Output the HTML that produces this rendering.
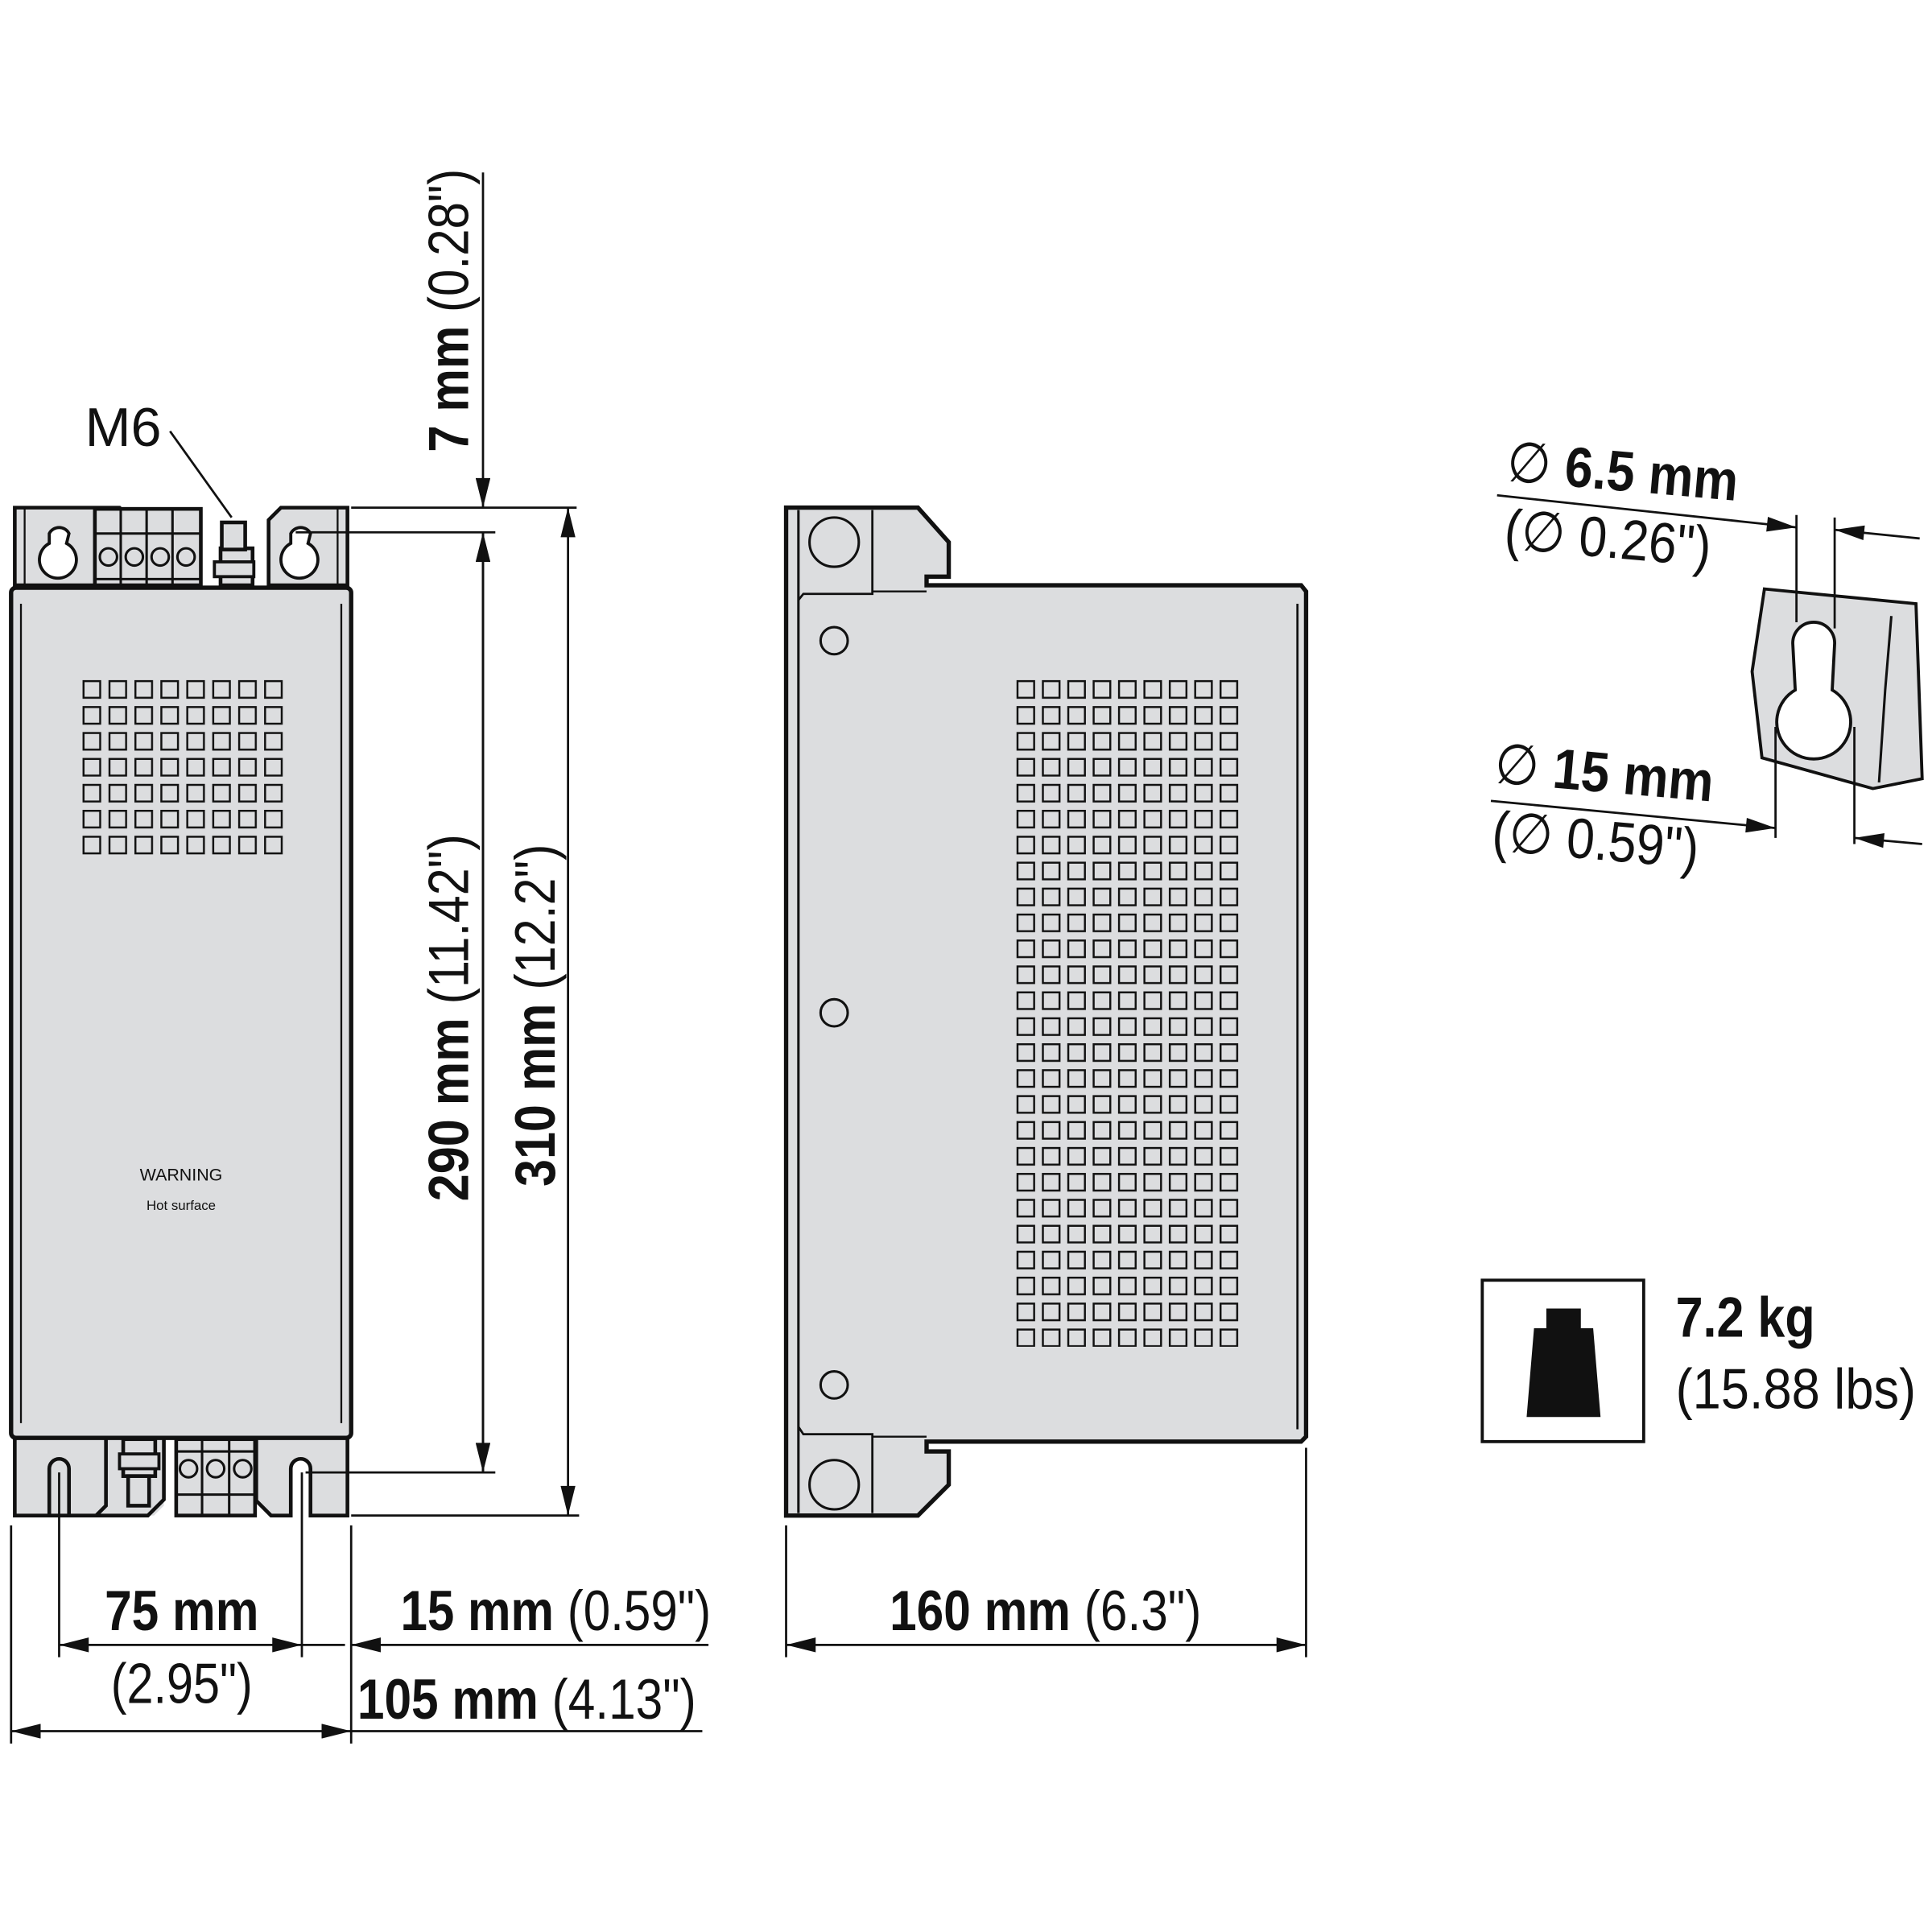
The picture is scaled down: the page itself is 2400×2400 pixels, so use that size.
<!DOCTYPE html>
<html><head><meta charset="utf-8"><style>
html,body{margin:0;padding:0;background:#fff}
svg{display:block}
text{font-family:"Liberation Sans Narrow","Liberation Sans",sans-serif;fill:#111}
.b{font-weight:bold}
</style></head><body>
<svg width="2400" height="2400" viewBox="0 0 1568 1568" xmlns="http://www.w3.org/2000/svg">
<defs>
<marker id="a" viewBox="0 0 20 10" refX="20" refY="5" markerWidth="36" markerHeight="12" markerUnits="userSpaceOnUse" orient="auto-start-reverse"><path d="M0,0 L20,5 L0,10 Z" fill="#111"/></marker>
<pattern id="g" x="67" y="552" width="21.05" height="21.05" patternUnits="userSpaceOnUse"><rect x="0.8" y="0.8" width="13.5" height="13.5" fill="none" stroke="#111" stroke-width="1.6"/></pattern>
<pattern id="g2" x="825" y="552" width="20.6" height="21.05" patternUnits="userSpaceOnUse"><rect x="0.8" y="0.8" width="13.5" height="13.5" fill="none" stroke="#111" stroke-width="1.6"/></pattern>
</defs>
<g stroke="#111" fill="#dcdddf">
<!-- LEFT UNIT top flanges -->
<path d="M19,444 L19,412 L104,412 L114,422 L114,475 L19,475 Z" stroke-width="3" transform="translate(-7,0)"/>
<rect x="77" y="413" width="86" height="62" stroke-width="3"/>
<line x1="77" y1="433" x2="163" y2="433" stroke-width="2"/><line x1="77" y1="470" x2="163" y2="470" stroke-width="2"/>
<line x1="98" y1="413" x2="98" y2="475" stroke-width="2"/><line x1="119" y1="413" x2="119" y2="475" stroke-width="2"/><line x1="140" y1="413" x2="140" y2="475" stroke-width="2"/>
<g fill="none" stroke-width="2"><circle cx="88" cy="452" r="7"/><circle cx="109" cy="452" r="7"/><circle cx="130" cy="452" r="7"/><circle cx="151" cy="452" r="7"/></g>
<rect x="179" y="445" width="26" height="30" stroke-width="3"/><rect x="180" y="424" width="19" height="22" stroke-width="3"/>
<rect x="174" y="456" width="32" height="12" stroke-width="2.5"/>
<path d="M218,475 L218,422 L228,412 L282,412 L282,475 Z" stroke-width="3"/>
<line x1="20" y1="413" x2="20" y2="475" stroke-width="1.5"/><line x1="274" y1="413" x2="274" y2="475" stroke-width="1.5"/>
<path d="M40,433 A9,9 0 0 1 56,433 L54,441 A15,15 0 1 1 40,441 Z" fill="#fff" stroke-width="2.5"/>
<path d="M236,433 A9,9 0 0 1 252,433 L250,441 A15,15 0 1 1 236,441 Z" fill="#fff" stroke-width="2.5"/>
<!-- bottom flanges -->
<path d="M18,1168 L133,1168 L133,1222 L125,1230 L87,1230 L87,1190 A7,7 0 0 0 73,1190 L73,1230 L62,1230 L60,1190 A7,7 0 0 0 48,1190 L48,1230 L18,1230 Z" stroke-width="0"/>
<path d="M18,1168 L18,1230 L61,1230 L61,1192 A8,8 0 0 1 77,1192 L77,1230 L120,1230 L133,1217 L133,1168" fill="#dcdddf" stroke-width="3"/>
<path d="M12,1168 L12,1230 L40,1230 L40,1192 A8,8 0 0 1 56,1192 L56,1230 L82,1230 L88,1224 L88,1168" stroke-width="0" fill="none"/>
<path d="M12,1168 L12,1230 L40,1230 L40,1192 A7,7 0 0 1 56,1192 L56,1230 L78,1230 L86,1222 L86,1168" stroke-width="3"/>
<rect x="143" y="1168" width="64" height="62" stroke-width="3"/>
<line x1="143" y1="1178" x2="207" y2="1178" stroke-width="2"/><line x1="143" y1="1213" x2="207" y2="1213" stroke-width="2"/>
<line x1="164" y1="1168" x2="164" y2="1230" stroke-width="2"/><line x1="186" y1="1168" x2="186" y2="1230" stroke-width="2"/>
<g fill="none" stroke-width="2"><circle cx="153" cy="1192" r="7"/><circle cx="175" cy="1192" r="7"/><circle cx="197" cy="1192" r="7"/></g>
<path d="M208,1168 L208,1218 L220,1230 L236,1230 L236,1192 A7,7 0 0 1 252,1192 L252,1230 L282,1230 L282,1168" stroke-width="3"/>
<rect x="100" y="1168" width="26" height="30" stroke-width="3"/><rect x="104" y="1198" width="17" height="24" stroke-width="3"/>
<rect x="97" y="1180" width="32" height="12" stroke-width="2.5"/>
<!-- body -->
<rect x="9" y="477" width="276" height="690" rx="4" stroke-width="3.5"/>
<line x1="17" y1="490" x2="17" y2="1155" stroke-width="1.5"/><line x1="277" y1="490" x2="277" y2="1155" stroke-width="1.5"/>
<rect x="66" y="551" width="168" height="146" fill="url(#g)" stroke="none"/>
<!-- SIDE VIEW -->
<path d="M638,412 L745,412 L770,440 L770,468 L752,468 L752,475 L1056,475 L1060,480 L1060,1166 L1056,1170 L752,1170 L752,1178 L770,1178 L770,1205 L745,1230 L638,1230 Z" stroke-width="3.5"/>
<line x1="648" y1="414" x2="648" y2="1228" stroke-width="2"/>
<path d="M648,487 L652,482 L708,482 L708,414" fill="none" stroke-width="1.8"/>
<path d="M648,1158 L652,1164 L708,1164 L708,1228" fill="none" stroke-width="1.8"/>
<line x1="708" y1="480" x2="752" y2="480" stroke-width="1.5"/><line x1="708" y1="1166" x2="752" y2="1166" stroke-width="1.5"/>
<line x1="1053" y1="490" x2="1053" y2="1160" stroke-width="1.8"/>
<circle cx="677" cy="440" r="20" stroke-width="2"/><circle cx="677" cy="1205" r="20" stroke-width="2"/>
<circle cx="677" cy="520" r="11" stroke-width="2"/><circle cx="677" cy="822" r="11" stroke-width="2"/><circle cx="677" cy="1124" r="11" stroke-width="2"/>
<rect x="824" y="551" width="186" height="542" fill="url(#g2)" stroke="none"/>
<!-- KEYHOLE DETAIL -->
<path d="M1432,478 L1555,490 L1560,632 L1520,640 L1430,615 L1422,545 Z" stroke-width="2.5"/>
<path d="M1455,522 A17,17 0 0 1 1489,522 L1487,560 A30,30 0 1 1 1457,560 Z" fill="#fff" stroke-width="2.5"/>
<path d="M1535,500 L1530,560 L1525,635" fill="none" stroke-width="2"/>
</g>
<!-- text in body -->
<text x="147" y="958" font-size="14" text-anchor="middle" font-family="Liberation Sans">WARNING</text>
<text x="147" y="982" font-size="11" text-anchor="middle" font-family="Liberation Sans">Hot surface</text>
<!-- weight box -->
<rect x="1203" y="1039" width="131" height="131" fill="#fff" stroke="#111" stroke-width="2.5"/>
<path d="M1255,1062 L1283,1062 L1283,1078 L1293,1078 L1299,1150 L1239,1150 L1245,1078 L1255,1078 Z" fill="#111"/>
<g stroke="#111" stroke-width="1.8" fill="none">
<!-- M6 leader -->
<line x1="138" y1="350" x2="188" y2="420"/>
<!-- vertical dims -->
<line x1="392" y1="140" x2="392" y2="412" marker-end="url(#a)"/>
<line x1="392" y1="1195" x2="392" y2="432" marker-end="url(#a)"/>
<line x1="392" y1="432" x2="392" y2="1195" marker-end="url(#a)"/>
<line x1="461" y1="412" x2="461" y2="1230" marker-start="url(#a)" marker-end="url(#a)"/>
<line x1="285" y1="412" x2="468" y2="412"/><line x1="240" y1="432" x2="402" y2="432"/>
<line x1="248" y1="1195" x2="402" y2="1195"/><line x1="285" y1="1230" x2="470" y2="1230"/>
<!-- bottom dims -->
<line x1="9" y1="1238" x2="9" y2="1415"/><line x1="285" y1="1238" x2="285" y2="1415"/>
<line x1="48" y1="1195" x2="48" y2="1345"/><line x1="245" y1="1195" x2="245" y2="1345"/>
<line x1="48" y1="1335" x2="245" y2="1335" marker-start="url(#a)" marker-end="url(#a)"/>
<line x1="575" y1="1335" x2="285" y2="1335" marker-end="url(#a)"/>
<line x1="245" y1="1335" x2="280" y2="1335"/>
<line x1="9" y1="1405" x2="285" y2="1405" marker-start="url(#a)" marker-end="url(#a)"/>
<line x1="285" y1="1405" x2="570" y2="1405"/>
<line x1="638" y1="1238" x2="638" y2="1345"/><line x1="1060" y1="1175" x2="1060" y2="1345"/>
<line x1="638" y1="1335" x2="1060" y2="1335" marker-start="url(#a)" marker-end="url(#a)"/>
<!-- keyhole dims -->
<line x1="1215" y1="402" x2="1458" y2="428" marker-end="url(#a)"/>
<line x1="1558" y1="437" x2="1489" y2="430" marker-end="url(#a)"/>
<line x1="1458" y1="418" x2="1458" y2="505"/><line x1="1489" y1="420" x2="1489" y2="510"/>
<line x1="1210" y1="650" x2="1441" y2="672" marker-end="url(#a)"/>
<line x1="1560" y1="685" x2="1505" y2="680" marker-end="url(#a)"/>
<line x1="1441" y1="590" x2="1441" y2="680"/><line x1="1505" y1="590" x2="1505" y2="685"/>
</g>
<!-- labels -->
<text x="69" y="362" font-size="44" textLength="62" lengthAdjust="spacingAndGlyphs">M6</text>
<text transform="translate(380,367) rotate(-90)" font-size="46" textLength="230" lengthAdjust="spacingAndGlyphs"><tspan class="b">7 mm</tspan> (0.28")</text>
<text transform="translate(380,975) rotate(-90)" font-size="46" textLength="298" lengthAdjust="spacingAndGlyphs"><tspan class="b">290 mm</tspan> (11.42")</text>
<text transform="translate(450,963) rotate(-90)" font-size="46" textLength="278" lengthAdjust="spacingAndGlyphs"><tspan class="b">310 mm</tspan> (12.2")</text>
<text x="85" y="1323" font-size="46" class="b" textLength="125" lengthAdjust="spacingAndGlyphs">75 mm</text>
<text x="90" y="1382" font-size="46" textLength="115" lengthAdjust="spacingAndGlyphs">(2.95")</text>
<text x="325" y="1323" font-size="46" textLength="252" lengthAdjust="spacingAndGlyphs"><tspan class="b">15 mm</tspan> (0.59")</text>
<text x="290" y="1395" font-size="46" textLength="275" lengthAdjust="spacingAndGlyphs"><tspan class="b">105 mm</tspan> (4.13")</text>
<text x="722" y="1323" font-size="46" textLength="253" lengthAdjust="spacingAndGlyphs"><tspan class="b">160 mm</tspan> (6.3")</text>
<text x="1360" y="1085" font-size="46" class="b" textLength="113" lengthAdjust="spacingAndGlyphs">7.2 kg</text>
<text x="1360" y="1143" font-size="46" textLength="195" lengthAdjust="spacingAndGlyphs">(15.88 lbs)</text>
<text transform="translate(1222,390) rotate(5)" font-size="46" textLength="188" lengthAdjust="spacingAndGlyphs"><tspan>∅</tspan><tspan class="b"> 6.5 mm</tspan></text>
<text transform="translate(1220,445) rotate(5)" font-size="46" textLength="168" lengthAdjust="spacingAndGlyphs">(∅ 0.26")</text>
<text transform="translate(1212,635) rotate(5)" font-size="46" textLength="178" lengthAdjust="spacingAndGlyphs"><tspan>∅</tspan><tspan class="b"> 15 mm</tspan></text>
<text transform="translate(1210,690) rotate(5)" font-size="46" textLength="168" lengthAdjust="spacingAndGlyphs">(∅ 0.59")</text>
</svg>
</body></html>
